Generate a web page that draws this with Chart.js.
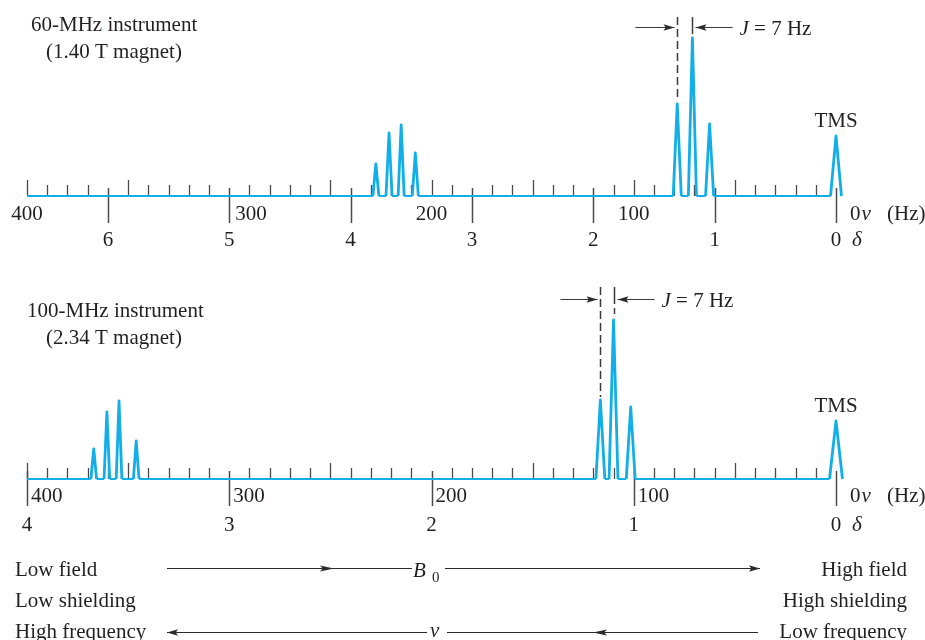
<!DOCTYPE html>
<html>
<head>
<meta charset="utf-8">
<title>NMR spectra at 60 and 100 MHz</title>
<script src="https://cdn.jsdelivr.net/npm/chart.js@4.4.0/dist/chart.umd.min.js"></script>
<style>
  html, body { margin: 0; padding: 0; background: #fff; }
  #wrap { width: 925px; height: 640px; position: relative; }
</style>
</head>
<body>
<div id="wrap"><canvas id="nmr" width="925" height="640"></canvas></div>
<script>
// Peak positions (Hz from TMS), heights and half widths
const hz60 = [227.5, 221, 215, 208, 78.5, 71, 62.5, 0];
const int60 = [32, 63, 71, 43, 92, 158, 72, 60];
const hw60 = [1.5, 1.5, 1.5, 1.5, 2, 2, 2, 2.7];

const hz100 = [367, 360.5, 354.5, 346, 116.5, 110, 101.5, 0];
const int100 = [30, 67, 78, 38, 79, 159, 72, 58];
const hw100 = [1.4, 1.4, 1.4, 1.4, 2.2, 2.2, 2.2, 3.2];

// Axis labels
const hzLabels = [400, 300, 200, 100];
const delta60 = [6, 5, 4, 3, 2, 1, 0];
const delta100 = [4, 3, 2, 1, 0];
const HZ_MAX = 400;

const SERIF = '"Liberation Serif", "Times New Roman", serif';
const INK = '#231f20';
const GREY = '#4a4a4c';
const BLUE = '#12aee8';

const font = (size, italic) => (italic ? 'italic ' : '') + size + 'px ' + SERIF;

/**
 * Build the stick/triangle trace: baseline at 0, each peak a narrow triangle
 */
function spectrum(hz, ints, hws) {
    const pts = [{ x: HZ_MAX, y: 0 }];
    hz.forEach((c, i) => {
        pts.push({ x: c + hws[i], y: 0 });
        pts.push({ x: c, y: ints[i] });
        pts.push({ x: c - hws[i], y: 0 });
    });
    return pts;
}

const panels = [
    {
        yId: 'yTop', mhz: 60, deltas: delta60, hz: hz60, ints: int60,
        hzAlign: ['center', 'left', 'center', 'center'], hzOff: 6,
        hzBase: 24, deltaBase: 50,
        title: '60-MHz instrument', titleX: 31, titleY: 31,
        magnet: '(1.40 T magnet)', magnetX: 46, magnetY: 57.5,
        jY: 27, jTop: 17, jTail: 42, jPeaks: [4, 5]
    },
    {
        yId: 'yBot', mhz: 100, deltas: delta100, hz: hz100, ints: int100,
        hzAlign: ['left', 'left', 'left', 'left'], hzOff: 4,
        hzBase: 23, deltaBase: 51.5,
        title: '100-MHz instrument', titleX: 27, titleY: 316.5,
        magnet: '(2.34 T magnet)', magnetX: 46, magnetY: 343.5,
        jY: 299, jTop: 287, jTail: 40, jPeaks: [4, 5]
    }
];

function line(ctx, x1, y1, x2, y2) {
    ctx.beginPath();
    ctx.moveTo(x1, y1);
    ctx.lineTo(x2, y2);
    ctx.stroke();
}

// filled arrow head with tip at (x, y), dir = +1 points right, -1 points left
function head(ctx, x, y, dir, len = 11, half = 3.2) {
    ctx.beginPath();
    ctx.moveTo(x, y);
    ctx.lineTo(x - dir * len, y - half);
    ctx.lineTo(x - dir * len * 0.8, y);
    ctx.lineTo(x - dir * len, y + half);
    ctx.closePath();
    ctx.fill();
}

function arrow(ctx, xFrom, xTo, y) {
    line(ctx, xFrom, y, xTo, y);
    head(ctx, xTo, y, xTo > xFrom ? 1 : -1);
}

function txt(ctx, s, x, y, align = 'left', f = font(21)) {
    ctx.font = f;
    ctx.textAlign = align;
    ctx.textBaseline = 'alphabetic';
    ctx.fillText(s, x, y);
}

function drawAxis(ctx, xs, ys, p) {
    const y0 = Math.round(ys.getPixelForValue(0));
    const deltaHz = p.deltas.map(d => d * p.mhz);
    ctx.save();
    ctx.strokeStyle = GREY;
    ctx.lineWidth = 1.3;
    for (let v = 10; v <= HZ_MAX; v += 10) {
        const onDelta = deltaHz.some(h => Math.abs(h - v) < 0.5);
        if (onDelta && v !== HZ_MAX) continue;
        const len = v % 50 === 0 ? 16 : 11;
        const x = Math.round(xs.getPixelForValue(v)) + 0.5;
        line(ctx, x, y0 - len, x, y0);
    }
    ctx.lineWidth = 1.5;
    deltaHz.forEach(h => {
        const x = Math.round(xs.getPixelForValue(h)) + 0.5;
        line(ctx, x, y0 - 8, x, y0 + 27);
    });
    ctx.restore();
}

function drawLabels(ctx, xs, ys, p) {
    const y0 = ys.getPixelForValue(0);
    const x0 = xs.getPixelForValue(0);
    ctx.save();
    ctx.fillStyle = INK;
    ctx.strokeStyle = '#3a3a3a';

    // titles
    txt(ctx, p.title, p.titleX, p.titleY);
    txt(ctx, p.magnet, p.magnetX, p.magnetY);

    // Hz row
    const hy = y0 + p.hzBase;
    hzLabels.forEach((v, i) => {
        const x = xs.getPixelForValue(v);
        if (p.hzAlign[i] === 'center') txt(ctx, String(v), x, hy, 'center');
        else txt(ctx, String(v), x + p.hzOff, hy, 'left');
    });
    txt(ctx, '0', x0 + 14, hy);
    ctx.font = font(21);
    const w0 = ctx.measureText('0').width;
    txt(ctx, 'ν', x0 + 14 + w0 + 1, hy, 'left', font(21, true));
    txt(ctx, '(Hz)', x0 + 51, hy);

    // δ row
    const dy = y0 + p.deltaBase;
    p.deltas.forEach(d => txt(ctx, String(d), xs.getPixelForValue(d * p.mhz), dy, 'center'));
    txt(ctx, 'δ', x0 + 16, dy, 'left', font(21, true));

    // TMS label above the reference peak
    const last = p.hz.length - 1;
    const tmsTop = ys.getPixelForValue(p.ints[last]);
    txt(ctx, 'TMS', xs.getPixelForValue(p.hz[last]), tmsTop - 9.5, 'center');

    // J = 7 Hz marker between the first two lines of the triplet
    const [a, b] = p.jPeaks;
    const xL = Math.round(xs.getPixelForValue(p.hz[a])) + 0.5;
    const xR = Math.round(xs.getPixelForValue(p.hz[b])) + 0.5;
    const topL = ys.getPixelForValue(p.ints[a]);
    const topR = ys.getPixelForValue(p.ints[b]);
    ctx.lineWidth = 1.5;
    ctx.setLineDash([8, 4]);
    line(ctx, xL, p.jTop, xL, topL - 3);
    ctx.setLineDash([]);
    line(ctx, xR, p.jTop, xR, p.jTop + 17);
    if (topR - 4 > p.jTop + 22) {
        ctx.setLineDash([6, 4]);
        line(ctx, xR, p.jTop + 21, xR, topR - 4);
        ctx.setLineDash([]);
    }
    ctx.lineWidth = 1.2;
    ctx.fillStyle = '#2a2a2a';
    arrow(ctx, xL - p.jTail, xL - 3, p.jY + 0.5);
    arrow(ctx, xR + 40, xR + 3, p.jY + 0.5);
    ctx.fillStyle = INK;
    txt(ctx, 'J', xR + 47, p.jY + 8, 'left', font(21, true));
    ctx.font = font(21, true);
    const wJ = ctx.measureText('J').width;
    txt(ctx, ' = 7 Hz', xR + 47 + wJ, p.jY + 8);
    ctx.restore();
}

function drawFooter(ctx) {
    ctx.save();
    ctx.fillStyle = INK;
    txt(ctx, 'Low field', 15, 576);
    txt(ctx, 'Low shielding', 15, 607);
    txt(ctx, 'High frequency', 15, 638);
    txt(ctx, 'High field', 907, 576, 'right');
    txt(ctx, 'High shielding', 907, 607, 'right');
    txt(ctx, 'Low frequency', 907, 638, 'right');

    ctx.strokeStyle = '#2a2a2a';
    ctx.fillStyle = '#2a2a2a';
    ctx.lineWidth = 1.2;
    // B0 arrow
    line(ctx, 167, 568.5, 412, 568.5);
    head(ctx, 334, 568.5, 1, 14, 3);
    arrow(ctx, 445, 760, 568.5);
    // ν arrow
    arrow(ctx, 427, 167, 632.5);
    line(ctx, 447, 632.5, 758, 632.5);
    head(ctx, 593, 632.5, -1, 14, 3);

    ctx.fillStyle = INK;
    txt(ctx, 'B', 413, 577, 'left', font(21, true));
    txt(ctx, '0', 432, 582, 'left', font(15));
    txt(ctx, 'ν', 430, 637, 'left', font(21, true));
    ctx.restore();
}

const nmrDecor = {
    id: 'nmrDecor',
    beforeDatasetsDraw(chart) {
        const { ctx, scales } = chart;
        panels.forEach(p => drawAxis(ctx, scales.x, scales[p.yId], p));
    },
    afterDatasetsDraw(chart) {
        const { ctx, scales } = chart;
        panels.forEach(p => drawLabels(ctx, scales.x, scales[p.yId], p));
        drawFooter(ctx);
    }
};

const traceStyle = {
    borderColor: BLUE,
    borderJoinStyle: 'round',
    pointRadius: 0,
    tension: 0,
    fill: false,
    clip: false,
    segment: {
        borderWidth: c => (c.p0.parsed.y === 0 && c.p1.parsed.y === 0) ? 2 : 2.8
    }
};

new Chart(document.getElementById('nmr'), {
    type: 'line',
    data: {
        datasets: [
            Object.assign({ label: '60 MHz', data: spectrum(hz60, int60, hw60), yAxisID: 'yTop' }, traceStyle),
            Object.assign({ label: '100 MHz', data: spectrum(hz100, int100, hw100), yAxisID: 'yBot' }, traceStyle)
        ]
    },
    options: {
        responsive: false,
        animation: false,
        devicePixelRatio: 1,
        layout: { padding: { left: 27, right: 89, top: 0, bottom: 0 } },
        plugins: { legend: { display: false }, tooltip: { enabled: false } },
        scales: {
            x: { type: 'linear', min: 0, max: HZ_MAX, reverse: true, display: false },
            yTop: { type: 'linear', min: -444, max: 196, display: false },
            yBot: { type: 'linear', min: -161, max: 479, display: false }
        }
    },
    plugins: [nmrDecor]
});
</script>
</body>
</html>
